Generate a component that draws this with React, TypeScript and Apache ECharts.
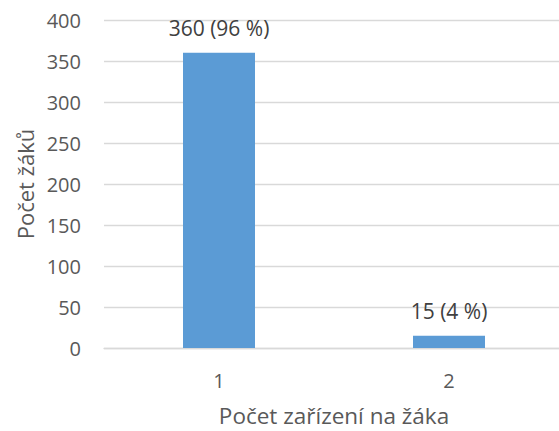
import React, { useEffect, useRef } from "react";
import * as echarts from "echarts";

const categories = ["1", "2"];
const values = [360, 15];
const percents = [96, 4];
const yAxisName = "Počet žáků";
const xAxisName = "Počet zařízení na žáka";

export default function App() {
  const ref = useRef<HTMLDivElement>(null);
  useEffect(() => {
    if (!ref.current) return;
    const chart = echarts.init(ref.current, undefined, { renderer: "svg" });
    const font = "'Open Sans', 'Noto Sans', sans-serif";
    chart.setOption({
      animation: false,
      backgroundColor: "#ffffff",
      grid: {
        left: 104,
        top: 20,
        width: 460,
        height: 328,
        containLabel: false,
        outerBoundsMode: "none",
      },
      xAxis: {
        type: "category",
        data: categories,
        name: xAxisName,
        nameLocation: "middle",
        nameGap: 55,
        nameTextStyle: { color: "#595959", fontSize: 22.5, lineHeight: 24, fontFamily: font },
        axisLine: { show: true, lineStyle: { color: "#d9d9d9", width: 1.3 } },
        axisTick: { show: false },
        axisLabel: { color: "#595959", fontSize: 20, fontFamily: font, margin: 22 },
      },
      yAxis: {
        type: "value",
        min: 0,
        max: 400,
        interval: 50,
        name: yAxisName,
        nameLocation: "middle",
        nameGap: 68,
        nameTextStyle: { color: "#595959", fontSize: 22, fontFamily: font },
        axisLine: { show: false },
        axisTick: { show: false },
        axisLabel: { color: "#595959", fontSize: 20, fontFamily: font, margin: 23 },
        splitLine: { lineStyle: { color: "#d9d9d9", width: 1.3 } },
      },
      series: [
        {
          type: "bar",
          data: values,
          barWidth: 72,
          itemStyle: { color: "#5B9BD5" },
          label: {
            show: true,
            position: "top",
            distance: 14,
            color: "#404040",
            fontSize: 21,
            fontFamily: font,
            formatter: (p: any) => `${p.value} (${percents[p.dataIndex]} %)`,
          },
        },
      ],
    });
    return () => chart.dispose();
  }, []);
  return (
    <div
      ref={ref}
      style={{ position: "fixed", left: 0, top: 0, width: 559, height: 431, overflow: "hidden" }}
    />
  );
}
